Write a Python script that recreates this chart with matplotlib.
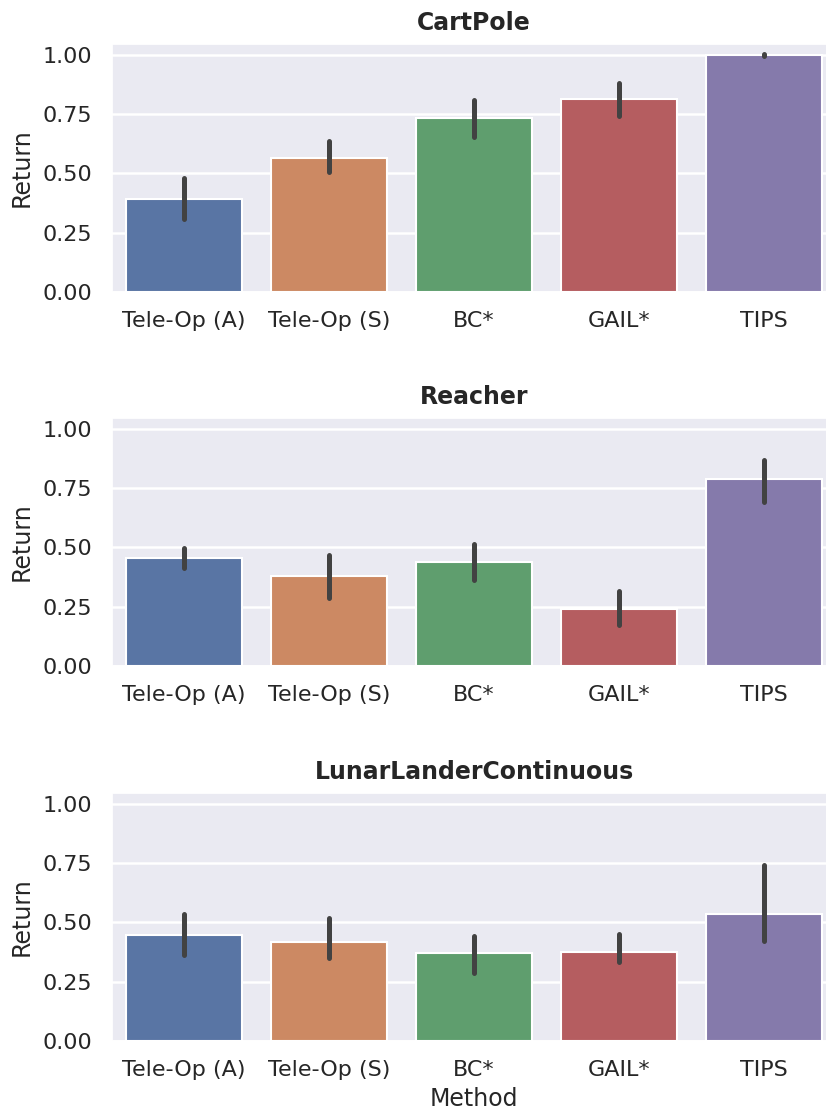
import numpy as np
import matplotlib
matplotlib.use("Agg")
import matplotlib.pyplot as plt
import seaborn as sns

sns.set_theme(style="darkgrid")
plt.rcParams['font.family'] = ['DejaVu Sans']

methods = ["Tele-Op (A)", "Tele-Op (S)", "BC*", "GAIL*", "TIPS"]
envs = ["CartPole", "Reacher", "LunarLanderContinuous"]

# mean normalized return per method
cartpole_mean = [0.392, 0.565, 0.734, 0.814, 1.000]
cartpole_lo = [0.310, 0.506, 0.654, 0.743, 0.995]
cartpole_hi = [0.480, 0.637, 0.810, 0.882, 1.005]

reacher_mean = [0.456, 0.380, 0.439, 0.240, 0.789]
reacher_lo = [0.414, 0.287, 0.363, 0.173, 0.692]
reacher_hi = [0.498, 0.468, 0.515, 0.316, 0.870]

lunar_mean = [0.447, 0.418, 0.371, 0.376, 0.536]
lunar_lo = [0.363, 0.350, 0.287, 0.333, 0.422]
lunar_hi = [0.536, 0.519, 0.443, 0.451, 0.743]

yticks = [0.0, 0.25, 0.5, 0.75, 1.0]

means = [cartpole_mean, reacher_mean, lunar_mean]
los = [cartpole_lo, reacher_lo, lunar_lo]
his = [cartpole_hi, reacher_hi, lunar_hi]

palette = [sns.desaturate(c, 0.75) for c in sns.color_palette("deep", len(methods))]

fig = plt.figure(figsize=(8.26, 11.13), dpi=100)
boxes = [(0.7376, 0.9605), (0.4016, 0.6244), (0.0647, 0.2875)]
left, width = 0.135, 0.878

for i, env in enumerate(envs):
    b, t = boxes[i]
    ax = fig.add_axes([left, b, width, t - b])
    x = np.arange(len(methods))
    ax.bar(x, means[i], width=0.8, color=palette, edgecolor="white", linewidth=1.5, zorder=2)
    for j in range(len(methods)):
        ax.plot([x[j], x[j]], [los[i][j], his[i][j]], color="#424242",
                linewidth=3.6, solid_capstyle="round", zorder=3)
    ax.set_xlim(-0.5, len(methods) - 0.5)
    ax.set_ylim(0, 1.046)
    ax.set_yticks(yticks)
    ax.set_yticklabels([f"{v:.2f}" for v in yticks])
    ax.set_xticks(x)
    ax.set_xticklabels(methods)
    ax.tick_params(axis="both", labelsize=16, pad=8, colors="#262626")
    ax.set_ylabel("Return", fontsize=17, color="#262626", labelpad=6)
    ax.set_title(env, fontsize=17, fontweight="bold", color="#262626", pad=10)
    ax.grid(axis="x", visible=False)
    ax.grid(axis="y", color="white", linewidth=1.8)
    ax.set_axisbelow(True)
    if i == len(envs) - 1:
        ax.set_xlabel("Method", fontsize=17, color="#262626", labelpad=5)

fig.savefig("out.png", dpi=100)
